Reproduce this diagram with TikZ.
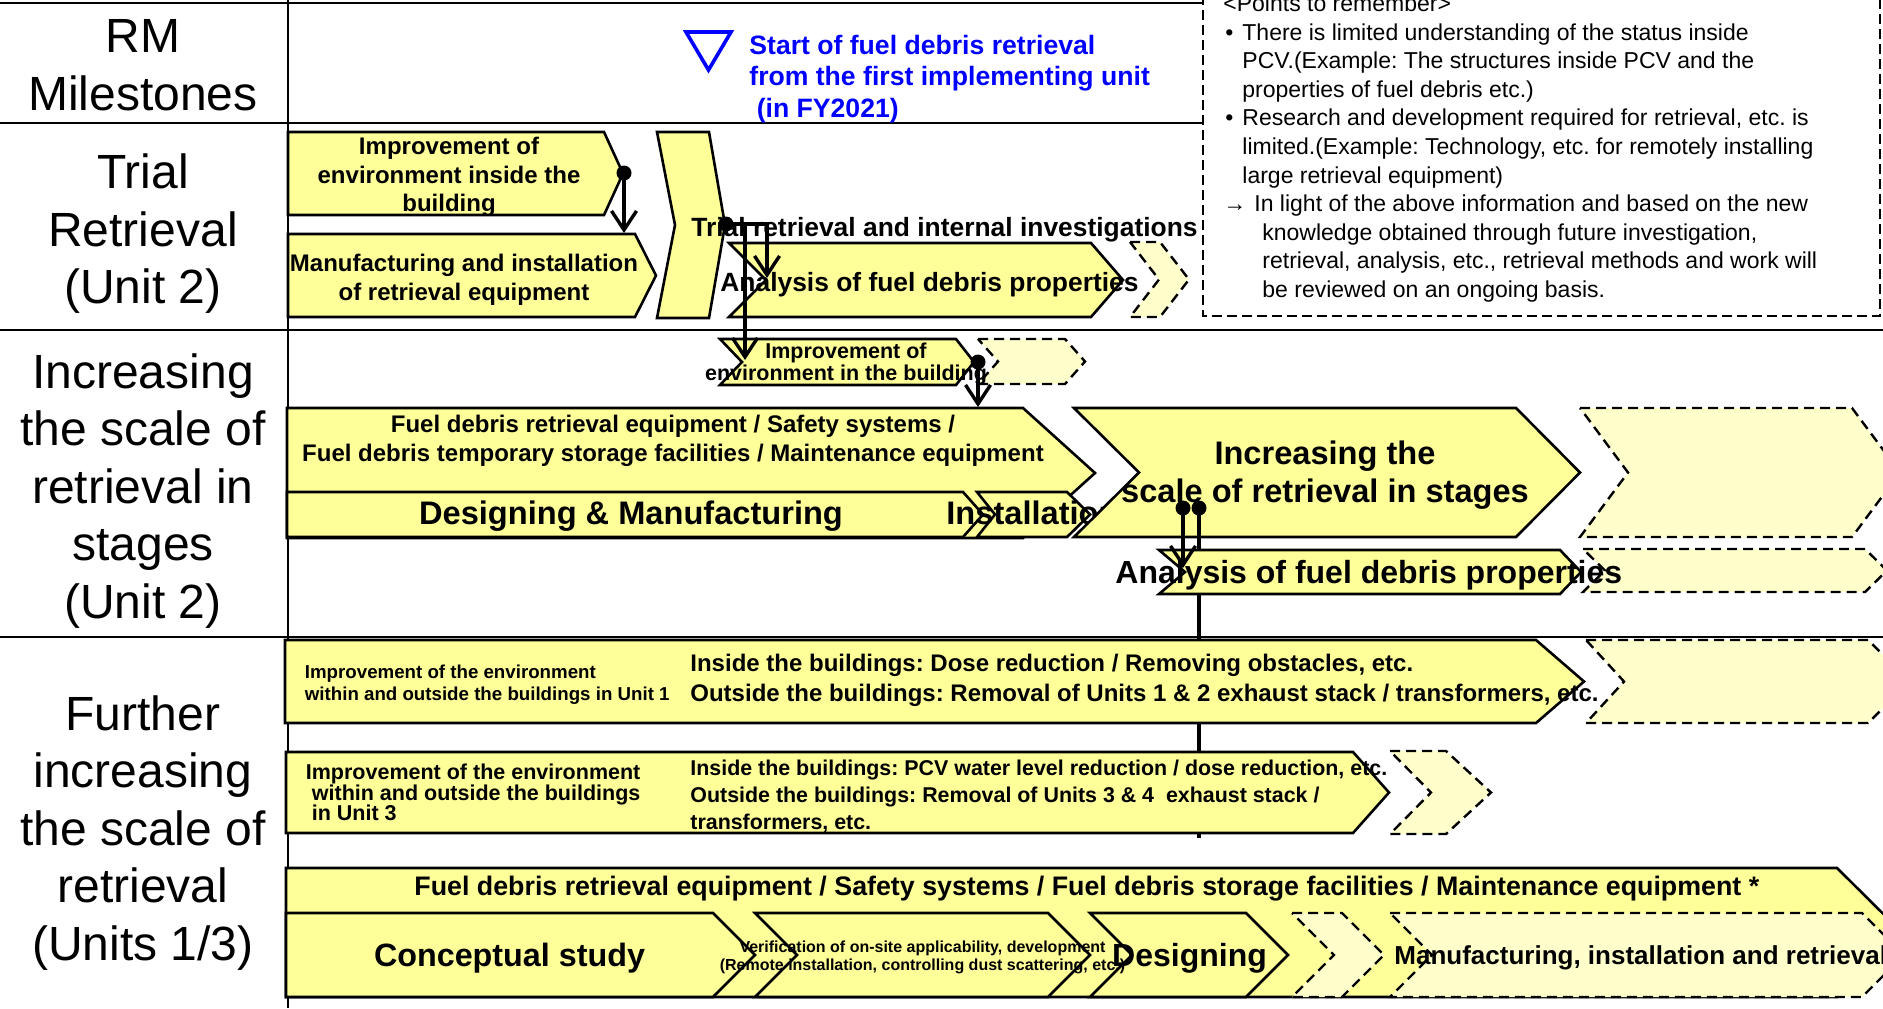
\documentclass[tikz,border=0pt]{standalone}
\usepackage{fontspec}
\setmainfont{Liberation Sans}
\usetikzlibrary{arrows.meta}
\definecolor{boxyellow}{HTML}{FFFF99}
\definecolor{paleyellow}{HTML}{FFFFCC}
\definecolor{msblue}{HTML}{0000FF}
\frenchspacing
\newcommand\fz[2]{\fontsize{#1}{#2}\selectfont}
\newcommand\bul{\makebox[8.5pt][l]{•}}
% chevron band: style, left x, notch x, shoulder x, tip x, top y, bottom y
\newcommand\band[7]{\path[#1] (#2,#6) -- (#4,#6) -- (#5,{(#6+#7)/2}) -- (#4,#7) -- (#2,#7) -- (#3,{(#6+#7)/2}) -- cycle;}
\begin{document}
\begin{tikzpicture}[x=0.5pt,y=-0.5pt,
  grid/.style={line width=1.4pt},
  box/.style={fill=boxyellow,draw=black,line width=1.3pt,line join=miter},
  ghost/.style={fill=paleyellow,draw=black,line width=1.2pt,dash pattern=on 5pt off 3pt},
  notebox/.style={draw=black,line width=1pt,dash pattern=on 5pt off 2.5pt},
  rowlabel/.style={align=center,font=\fz{24pt}{28.75pt}},
  note/.style={anchor=base west,inner sep=0,font=\fz{11.5pt}{14.3pt}},
  boxtext/.style={align=center,inner sep=0},
  lefttext/.style={anchor=west,align=left,inner sep=0},
  line1/.style={anchor=base west,inner sep=0},
  dot/.style={circle,fill=black,inner sep=0,minimum size=7.5pt},
  link/.style={line width=1.7pt},
  conn/.style={line width=1.7pt,-{Straight Barb[length=9.5pt,width=12.5pt]}}]
\clip (0,0) rectangle (1883,1008);
\fill[white] (0,0) rectangle (1883,1008);

% table rules
\draw[grid] (0,3) -- (1203,3);
\draw[grid] (0,123) -- (1203,123);
\draw[grid] (0,330) -- (1883,330);
\draw[grid] (0,637) -- (1883,637);
\draw[grid] (288,0) -- (288,1008);

% row headings
\node[rowlabel] (lab-rm) at (143,65) {RM\\Milestones};
\node[rowlabel] (lab-trial) at (143,234) {Trial\\Retrieval\\(Unit 2)};
\node[rowlabel] (lab-stage) at (143,491) {Increasing\\the scale of\\retrieval in\\stages\\(Unit 2)};
\node[rowlabel] (lab-further) at (143,833) {Further\\increasing\\the scale of\\retrieval\\(Units 1/3)};

% notes
\draw[notebox] (1203,-20) rectangle (1880,316);
\node[note] (n0) at (1223,11.4) {\textless Points to remember\textgreater};
\node[note] (n1) at (1225,40) {\bul There is limited understanding of the status inside};
\node[note] (n2) at (1242,68.6) {PCV.(Example: The structures inside PCV and the};
\node[note] (n3) at (1242,97.2) {properties of fuel debris etc.)};
\node[note] (n4) at (1225,125.8) {\bul Research and development required for retrieval, etc. is};
\node[note] (n5) at (1242,154.4) {limited.(Example: Technology, etc. for remotely installing};
\node[note] (n6) at (1242,183) {large retrieval equipment)};
\node[note] (n7) at (1223,211.6) {\makebox[15.5pt][l]{→}In light of the above information and based on the new};
\node[note] (n8) at (1262,240.2) {knowledge obtained through future investigation,};
\node[note] (n9) at (1262,268.8) {retrieval, analysis, etc., retrieval methods and work will};
\node[note] (n10) at (1262,297.4) {be reviewed on an ongoing basis.};

% milestone
\draw[msblue,line width=1.8pt,line join=miter] (686,32) -- (731,32) -- (708.5,70) -- cycle;
\node[lefttext,font=\fz{13.3pt}{15.75pt}\bfseries,text=msblue] (ms) at (749,79)
  {Start of fuel debris retrieval\\from the first implementing unit\\\hspace*{3.7pt}(in FY2021)};

% trial retrieval row
\band{box}{288}{288}{604}{623}{132}{215}
\band{box}{288}{288}{635}{656}{234}{317}
\band{box}{657}{675}{709}{725}{132}{318}
\band{box}{729}{766}{1091}{1123}{243}{317}
\band{ghost}{1130}{1159}{1160}{1189}{242}{317}

% increasing the scale row
\band{box}{720}{742}{956}{974}{339}{385}
\band{ghost}{978}{998}{1065}{1085}{339}{384}
\band{box}{287}{287}{1023}{1095}{408}{538}
\band{box}{287}{287}{963}{983}{492}{537}
\band{box}{977}{995}{1067}{1090}{492}{537}
\node[line1,font=\fz{16.3pt}{19pt}\bfseries] (install2) at (946,524.7) {Installation};
\band{box}{1074}{1139}{1516}{1580}{408}{537}
\band{ghost}{1580}{1628}{1852}{1900}{408}{537}
\coordinate (p5) at (1199,508);
\coordinate (e5) at (1199,838);
\draw[link] (p5) -- (e5);
\band{box}{1159}{1185}{1560}{1581}{550}{594}
\band{ghost}{1583}{1605}{1865}{1887}{549}{592}

% further increasing row
\band{box}{285}{285}{1536}{1584}{640}{723}
\band{ghost}{1586}{1624}{1868}{1910}{640}{723}
\band{box}{286}{286}{1353}{1389}{752}{833}
\band{ghost}{1390}{1431}{1446}{1491}{751}{834}
\band{box}{286}{286}{1837}{1902}{868}{997}
\band{box}{286}{286}{713}{755}{913}{997}
\band{box}{755}{797}{1048}{1090}{913}{997}
\band{box}{1090}{1132}{1246}{1288}{913}{997}
\band{ghost}{1292}{1334}{1342}{1384}{913}{997}
\band{ghost}{1390}{1432}{1862}{1904}{913}{997}

% labels inside the bands
\node[boxtext,font=\fz{12pt}{14.25pt}\bfseries] (imp-bldg) at (449,177) {Improvement of\\environment inside the\\building};
\node[boxtext,font=\fz{12pt}{14.5pt}\bfseries] (mfg) at (464,280) {Manufacturing and installation\\of retrieval equipment};
\node[line1,font=\fz{13.2pt}{16pt}\bfseries] (trial) at (691,236.5) {Trial retrieval and internal investigations};
\node[line1,font=\fz{13.2pt}{16pt}\bfseries] (ana1) at (720,291.4) {Analysis of fuel debris properties};

\node[boxtext,font=\fz{10.75pt}{10pt}\bfseries] (imp-small) at (846,364) {Improvement of\\environment in the building};
\node[boxtext,font=\fz{12pt}{14.5pt}\bfseries] (equip2) at (673,441) {Fuel debris retrieval equipment / Safety systems /\\Fuel debris temporary storage facilities / Maintenance equipment};
\node[anchor=base,inner sep=0,font=\fz{16.3pt}{19pt}\bfseries] (design2) at (631,524.7) {Designing \& Manufacturing};
\node[boxtext,font=\fz{16.3pt}{19pt}\bfseries] (stage2) at (1325,475) {Increasing the\\scale of retrieval in stages};
\node[line1,font=\fz{16pt}{19pt}\bfseries] (ana2) at (1115,583.5) {Analysis of fuel debris properties};

\node[lefttext,font=\fz{9.35pt}{11pt}\bfseries] (u1-left) at (304.5,685) {Improvement of the environment\\within and outside the buildings in Unit 1};
\node[lefttext,font=\fz{12pt}{15pt}\bfseries] (u1-right) at (690,680.4) {Inside the buildings: Dose reduction / Removing obstacles, etc.\\Outside the buildings: Removal of Units 1 \& 2 exhaust stack / transformers, etc.};
\node[lefttext,font=\fz{10.75pt}{10.25pt}\bfseries] (u3-left) at (305.5,792.5) {Improvement of the environment\\\hspace*{3pt}within and outside the buildings\\\hspace*{3pt}in Unit 3};
\node[lefttext,font=\fz{10.7pt}{13.5pt}\bfseries] (u3-right) at (690,796) {Inside the buildings: PCV water level reduction / dose reduction, etc.\\Outside the buildings: Removal of Units 3 \& 4\ \ exhaust stack /\\transformers, etc.};
\node[line1,font=\fz{13.4pt}{16pt}\bfseries] (equip13) at (414,895.6) {Fuel debris retrieval equipment / Safety systems / Fuel debris storage facilities / Maintenance equipment *};
\node[anchor=base,inner sep=0,font=\fz{16.15pt}{19pt}\bfseries] (concept) at (509.5,966.6) {Conceptual study};
\node[boxtext,font=\fz{8pt}{9pt}\bfseries] (verify) at (922.5,957.6) {Verification of on-site applicability, development\\(Remote installation, controlling dust scattering, etc.)};
\node[anchor=base,inner sep=0,font=\fz{16pt}{19pt}\bfseries] (design13) at (1189.5,966.6) {Designing};
\node[line1,font=\fz{13pt}{16pt}\bfseries] (mfg13) at (1394,964.3) {Manufacturing, installation and retrieval};

% dependencies
\node[dot] (d1) at (624,173) {};
\coordinate (t1) at (624,233);
\draw[conn] (d1.center) -- (t1);
\node[dot] (d2) at (726,224) {};
\coordinate (t2) at (767,278);
\draw[conn] (d2.center) -- (t2 |- d2) -- (t2);
\coordinate (t3) at (745,360);
\draw[conn] (t3 |- d2) -- (t3);
\node[dot] (d3) at (978,362) {};
\coordinate (t4) at (978,407);
\draw[conn] (d3.center) -- (t4);
\node[dot] (d4) at (1183,508) {};
\coordinate (t5) at (1183,568);
\draw[conn] (d4.center) -- (t5);
\node[dot] (d5) at (p5) {};
\end{tikzpicture}
\end{document}
